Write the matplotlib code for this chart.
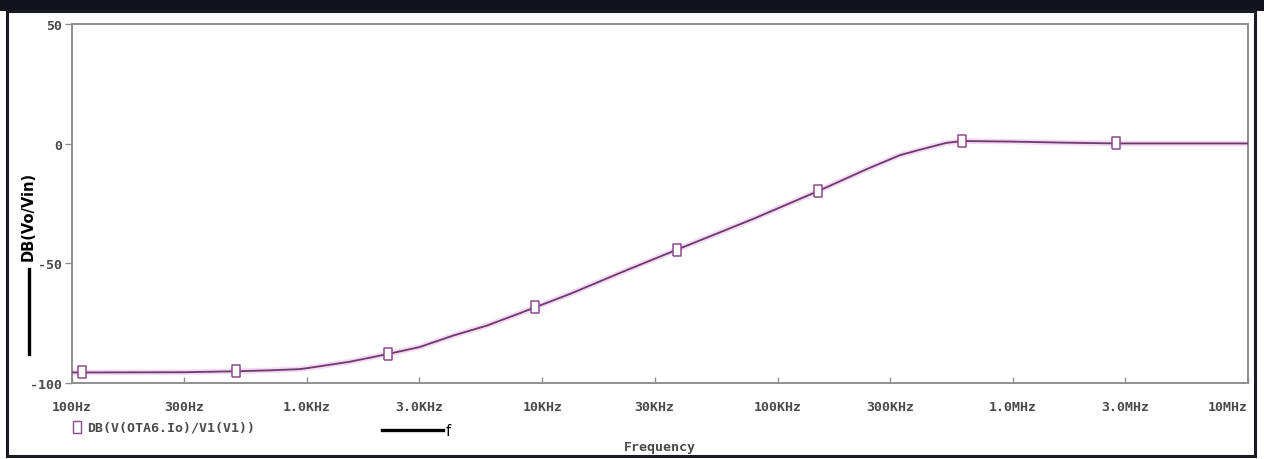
import numpy as np
import matplotlib
matplotlib.use("Agg")
import matplotlib.pyplot as plt
from matplotlib.patches import Rectangle
from matplotlib.lines import Line2D

# Simulated magnitude response of the OTA filter, DB(Vo/Vin) vs frequency
freq_hz = [100, 110, 300, 500, 700, 930, 1000, 1520, 2200, 3000, 4170,
           5815, 8035, 9300, 13090, 21380, 37300, 78500, 148000, 239900,
           331300, 400000, 457900, 520000, 608000, 954000, 1.70e6, 2.75e6,
           1.0e7]
gain_db = [-95.6, -95.6, -95.5, -95.1, -94.7, -94.2, -93.8, -91.1, -87.9,
           -85.0, -80.2, -76.0, -70.8, -68.4, -62.8, -54.0, -44.3, -31.5,
           -19.9, -10.6, -4.8, -2.6, -1.1, 0.3, 1.1, 0.9, 0.4, 0.1, 0.1]

# Trace symbols placed along the curve
marker_freq_hz = [110, 500, 2200, 9300, 37300, 148000, 608000, 2.75e6]
marker_db = [-95.6, -95.1, -87.9, -68.4, -44.3, -19.9, 1.1, 0.1]

x_ticks = [100, 300, 1e3, 3e3, 1e4, 3e4, 1e5, 3e5, 1e6, 3e6, 1e7]
x_tick_labels = ["100Hz", "300Hz", "1.0KHz", "3.0KHz", "10KHz", "30KHz",
                 "100KHz", "300KHz", "1.0MHz", "3.0MHz", "10MHz"]
y_ticks = [-100, -50, 0, 50]
y_tick_labels = ["-100", "-50", "0", "50"]

trace_color = "#6b3b6b"
marker_color = "#8c4c8c"
halo_color = "#f4d8f4"
axis_gray = "#8f8f8f"
label_gray = "#4a4a4a"
mono = ["DejaVu Sans Mono"]

# Tall open rectangle used as the trace symbol
rect_marker = [(-0.33, -0.5), (0.33, -0.5), (0.33, 0.5), (-0.33, 0.5),
               (-0.33, -0.5)]

W, H = 1264, 460
fig = plt.figure(figsize=(W / 100, H / 100), dpi=100)
fig.patch.set_facecolor("white")

ax = fig.add_axes([72 / W, 1 - 384 / H, (1248 - 72) / W, (384 - 25) / H])
ax.set_xscale("log")
ax.set_xlim(100, 1e7)
ax.set_ylim(-100, 50)

# Trace: soft pink underlay, then the main line and its symbols
ax.plot(freq_hz, gain_db, color=halo_color, lw=4.0, solid_capstyle="butt",
        zorder=2)
ax.plot(freq_hz, gain_db, color=trace_color, lw=1.3, zorder=3)
ax.plot(marker_freq_hz, marker_db, ls="none", marker=rect_marker, ms=9,
        mfc="white", mec=marker_color, mew=1.1, zorder=4)

for side in ["left", "bottom", "top", "right"]:
    ax.spines[side].set_color(axis_gray)
    ax.spines[side].set_linewidth(1.4)

ax.set_xticks(x_ticks)
ax.set_xticklabels(x_tick_labels)
ax.xaxis.set_minor_locator(matplotlib.ticker.NullLocator())
ax.set_yticks(y_ticks)
ax.set_yticklabels(y_tick_labels)
ax.tick_params(axis="x", direction="in", length=4, width=1, color=axis_gray,
               pad=12, labelsize=9.5, labelcolor=label_gray)
ax.tick_params(axis="y", direction="out", length=5, width=1, color=axis_gray,
               pad=2, labelsize=9.5, labelcolor=label_gray)
for lab in ax.get_xticklabels() + ax.get_yticklabels():
    lab.set_fontfamily(mono)
    lab.set_fontweight("bold")
ax.get_xticklabels()[-1].set_horizontalalignment("right")

fig.text(660 / W, 1 - 448 / H, "Frequency", ha="center", va="center",
         fontsize=9.5, fontweight="bold", color=label_gray, family=mono)

# Y-axis title with its trace key bar
fig.text(28 / W, 1 - 216 / H, "DB(Vo/Vin)", rotation=90, ha="center",
         va="center", fontsize=10.5, fontweight="bold", color="black",
         family=["DejaVu Sans"])
fig.add_artist(Line2D([29 / W, 29 / W], [1 - 270 / H, 1 - 355 / H],
                      color="black", lw=2.4))

# Legend entry below the axis
fig.add_artist(Line2D([77 / W], [1 - 428 / H], ls="none", marker=rect_marker,
                      ms=8, mfc="white", mec=marker_color, mew=1.0))
fig.text(87 / W, 1 - 428 / H, "DB(V(OTA6.Io)/V1(V1))", ha="left",
         va="center", fontsize=9.5, fontweight="bold", color=label_gray,
         family=mono)

# Frequency cursor key
fig.add_artist(Line2D([382 / W, 443 / W], [1 - 431 / H, 1 - 431 / H],
                      color="black", lw=2.4))
fig.text(446 / W, 1 - 432 / H, "f", ha="left", va="center", fontsize=10.5,
         color="black", family=["DejaVu Sans"])

# Window frame
fig.add_artist(Rectangle((0, 1 - 12 / H), 1, 12 / H, transform=fig.transFigure,
                         facecolor="#13131d", edgecolor="none"))
fig.add_artist(Rectangle((7 / W, 1 - 457 / H), (1255 - 7) / W, (457 - 12) / H,
                         transform=fig.transFigure, facecolor="none",
                         edgecolor="#1a1a22", lw=2.2))

fig.savefig("out.png", dpi=100, facecolor=fig.get_facecolor())
